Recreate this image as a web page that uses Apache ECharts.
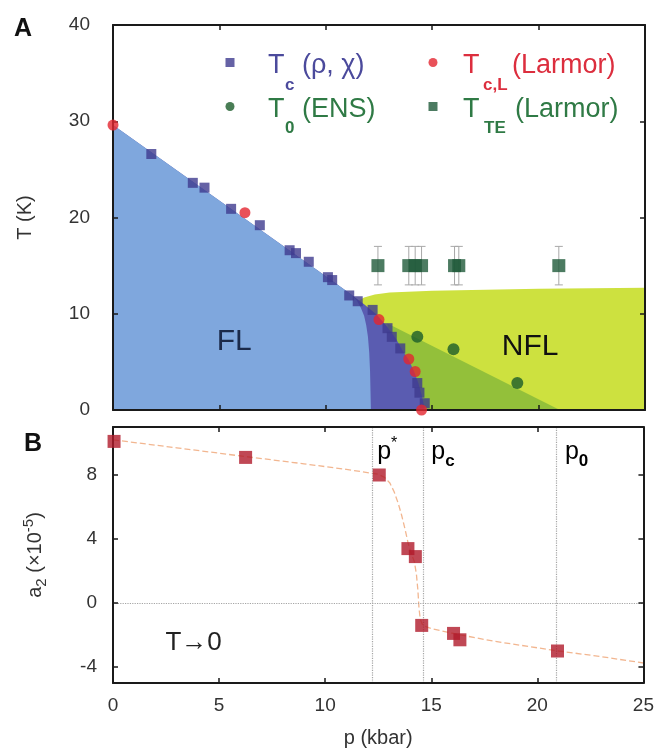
<!DOCTYPE html>
<html>
<head>
<meta charset="utf-8">
<script src="https://cdn.jsdelivr.net/npm/echarts@6/dist/echarts.min.js"></script>
<style>
html, body { margin: 0; padding: 0; background: #fff; }
#chart { width: 657px; height: 749px; }
</style>
</head>
<body>
<div id="chart"></div>
<script>
// ---- panel A : T(p) phase diagram ----
// Tc (rho, chi) squares
var tcDataP = [1.8, 3.75, 4.3, 5.55, 6.9, 8.3, 8.6, 9.2, 10.1, 10.3, 11.1, 11.5, 12.2, 12.9, 13.1, 13.5, 14.3, 14.4, 14.65];
var tcDataT = [26.6, 23.6, 23.1, 20.9, 19.2, 16.6, 16.3, 15.4, 13.8, 13.5, 11.9, 11.3, 10.4, 8.5, 7.6, 6.4, 2.8, 1.8, 0.7];
// Tc,L (Larmor) circles
var tcLP = [0, 6.2, 12.5, 13.9, 14.2, 14.5];
var tcLT = [29.6, 20.5, 9.4, 5.3, 4.0, 0];
// T0 (ENS) circles
var t0P = [14.3, 16.0, 19.0];
var t0T = [7.6, 6.3, 2.8];
// TTE (Larmor) squares with error bars
var tteP = [12.45, 13.9, 14.2, 14.5, 16.05, 16.25, 20.95];
var tteT = [15, 15, 15, 15, 15, 15, 15];
var tteErr = [2, 2, 2, 2, 2, 2, 2];

// region boundaries
var tcLineP = [0, 10, 11, 11.8, 12.4, 12.9, 13.3, 13.6, 13.9, 14.15, 14.35, 14.5, 14.6, 14.65];
var tcLineT = [29.6, 13.9, 12.3, 11.0, 9.9, 8.6, 7.4, 6.2, 5.2, 4.0, 2.8, 1.6, 0.6, 0];
var flP = [0, 10, 11, 11.2, 11.45, 11.65, 11.8, 11.9, 11.98, 12.04, 12.08, 12.1, 12.12];
var flT = [29.6, 13.9, 12.3, 12.0, 11.4, 10.6, 9.8, 8.8, 7.6, 6.0, 4.0, 2.0, 0];
var nflP = [11.5, 11.8, 12.3, 13, 15, 20, 25];
var nflT = [11.3, 11.7, 12.0, 12.2, 12.4, 12.6, 12.7];
var ensEdgeP = [12.9, 21.0];
var ensEdgeT = [9.0, 0];

// ---- panel B : a2(p) at T -> 0 ----
var a2P = [0.05, 6.25, 12.55, 13.9, 14.25, 14.55, 16.05, 16.35, 20.95];
var a2V = [10.1, 9.1, 8.0, 3.4, 2.9, -1.4, -1.9, -2.3, -3.0];
var fitP = [0, 3, 6.25, 9, 11, 12.5, 12.8, 13.05, 13.25, 13.45, 13.6, 13.75, 13.9, 14.05, 14.2, 14.3, 14.37, 14.42, 14.48, 14.6, 15, 16.2, 18, 21, 23, 25];
var fitA = [10.2, 9.7, 9.15, 8.7, 8.35, 8.05, 7.85, 7.5, 6.95, 6.2, 5.5, 4.7, 3.8, 3.1, 2.6, 1.8, 0.8, -0.3, -1.0, -1.4, -1.6, -1.95, -2.4, -3.0, -3.35, -3.75];
var refLinesP = [12.2, 14.6, 20.9];

var a2Ticks = [-4, 0, 4, 8];

function zip(a, b, c) {
    return a.map(function (v, i) { return c ? [v, b[i], c[i]] : [v, b[i]]; });
}

var FONT = '"Liberation Sans", Arial, sans-serif';
var INK = '#1a1a1a';
var BLUE_TXT = '#4b4a9c', RED_TXT = '#dc2e3e', GREEN_TXT = '#2f7a45';

function frameAxis(extra) {
    return Object.assign({
        type: 'value',
        axisLine: { show: true, onZero: false, lineStyle: { color: INK, width: 2 } },
        axisTick: { show: true, inside: true, length: 5, lineStyle: { color: INK, width: 1.5 } },
        axisLabel: { show: false },
        splitLine: { show: false },
        z: 5
    }, extra);
}

var labelStyle = { show: true, color: '#333', fontSize: 19, fontFamily: FONT };

function areaSeries(name, data, color) {
    return {
        name: name, type: 'line', xAxisIndex: 0, yAxisIndex: 0,
        data: data, showSymbol: false, symbol: 'none', silent: true,
        smooth: false,
        lineStyle: { width: 0 },
        areaStyle: { color: color, opacity: 1, origin: 'start' },
        z: 1
    };
}

// legend: icons from the legend component, labels (with subscripts) as text
function iconLegend(left, names) {
    return {
        left: left, top: 58, orient: 'vertical', padding: 0, itemGap: 35,
        itemWidth: 9, itemHeight: 9, selectedMode: false,
        data: names,
        formatter: function () { return ''; },
        textStyle: { fontSize: 9, lineHeight: 9 }
    };
}

var chart = echarts.init(document.getElementById('chart'));

var option = {
    animation: false,
    backgroundColor: '#fff',
    textStyle: { fontFamily: FONT },
    grid: [
        { left: 113, right: 12, top: 25, height: 385 },
        { left: 113, right: 12, top: 427, height: 258 }
    ],
    xAxis: [
        frameAxis({ gridIndex: 0, min: 0, max: 25, interval: 5, position: 'bottom' }),
        frameAxis({ gridIndex: 0, min: 0, max: 25, interval: 5, position: 'top' }),
        frameAxis({
            gridIndex: 1, min: 0, max: 25, interval: 5, position: 'bottom',
            axisLabel: Object.assign({ margin: 13, showMinLabel: true, showMaxLabel: true }, labelStyle),
            name: 'p (kbar)', nameLocation: 'middle', nameGap: 45,
            nameTextStyle: { fontSize: 20, color: '#333', fontFamily: FONT }
        }),
        frameAxis({ gridIndex: 1, min: 0, max: 25, interval: 5, position: 'top' })
    ],
    yAxis: [
        frameAxis({
            gridIndex: 0, min: 0, max: 40, interval: 10, position: 'left',
            axisLabel: Object.assign({ margin: 23 }, labelStyle),
            name: 'T (K)', nameLocation: 'middle', nameGap: 78,
            nameTextStyle: { fontSize: 20, color: '#333', fontFamily: FONT }
        }),
        frameAxis({ gridIndex: 0, min: 0, max: 40, interval: 10, position: 'right' }),
        frameAxis({
            gridIndex: 1, min: -5, max: 11, position: 'left',
            axisTick: { show: true, inside: true, length: 5, customValues: a2Ticks, lineStyle: { color: INK, width: 1.5 } },
            axisLabel: Object.assign({ margin: 16, customValues: a2Ticks }, labelStyle),
            name: '{n|a}{d|2}{n| (×10}{u|-5}{n|)}', nameLocation: 'middle', nameGap: 64,
            nameTextStyle: {
                color: '#333',
                rich: {
                    n: { fontSize: 20, color: '#333', lineHeight: 28, fontFamily: FONT },
                    d: { fontSize: 15, color: '#333', lineHeight: 8, verticalAlign: 'bottom', fontFamily: FONT },
                    u: { fontSize: 15, color: '#333', lineHeight: 8, verticalAlign: 'top', fontFamily: FONT }
                }
            }
        }),
        frameAxis({
            gridIndex: 1, min: -5, max: 11, position: 'right',
            axisTick: { show: true, inside: true, length: 5, customValues: a2Ticks, lineStyle: { color: INK, width: 1.5 } }
        })
    ],
    legend: [
        iconLegend(225.5, ['Tc (ρ, χ)', 'T0 (ENS)']),
        iconLegend(428.5, ['Tc,L (Larmor)', 'TTE (Larmor)'])
    ],
    series: [
        areaSeries('NFL', zip(nflP, nflT), '#cde13f'),
        areaSeries('ENS', zip(ensEdgeP, ensEdgeT), '#93c03a'),
        areaSeries('Tc line', zip(tcLineP, tcLineT), '#5a5cb1'),
        areaSeries('FL', zip(flP, flT), '#7fa7dd'),
        {
            name: 'TTE err', type: 'custom', xAxisIndex: 0, yAxisIndex: 0,
            data: zip(tteP, tteT, tteErr), silent: true, z: 8,
            encode: { x: 0, y: 1 },
            renderItem: function (params, api) {
                var x = api.value(0), y = api.value(1), e = api.value(2);
                var hi = api.coord([x, y + e]), lo = api.coord([x, y - e]);
                var w = 4, st = { stroke: '#a8a8a8', lineWidth: 1 };
                return {
                    type: 'group', children: [
                        { type: 'line', shape: { x1: hi[0], y1: hi[1], x2: lo[0], y2: lo[1] }, style: st },
                        { type: 'line', shape: { x1: hi[0] - w, y1: hi[1], x2: hi[0] + w, y2: hi[1] }, style: st },
                        { type: 'line', shape: { x1: lo[0] - w, y1: lo[1], x2: lo[0] + w, y2: lo[1] }, style: st }
                    ]
                };
            }
        },
        {
            name: 'Tc (ρ, χ)', type: 'scatter', xAxisIndex: 0, yAxisIndex: 0,
            data: zip(tcDataP, tcDataT), symbol: 'rect', symbolSize: 10,
            itemStyle: { color: '#3e3b8e' }, z: 10, clip: false
        },
        {
            name: 'Tc,L (Larmor)', type: 'scatter', xAxisIndex: 0, yAxisIndex: 0,
            data: zip(tcLP, tcLT), symbol: 'circle', symbolSize: 11,
            itemStyle: { color: '#e4262f' }, z: 11, clip: false
        },
        {
            name: 'T0 (ENS)', type: 'scatter', xAxisIndex: 0, yAxisIndex: 0,
            data: zip(t0P, t0T), symbol: 'circle', symbolSize: 12,
            itemStyle: { color: '#1b5c2b' }, z: 10
        },
        {
            name: 'TTE (Larmor)', type: 'scatter', xAxisIndex: 0, yAxisIndex: 0,
            data: zip(tteP, tteT), symbol: 'rect', symbolSize: 13,
            itemStyle: { color: '#1f5a3a' }, z: 10
        },
        {
            name: 'fit', type: 'line', xAxisIndex: 2, yAxisIndex: 2,
            data: zip(fitP, fitA), showSymbol: false, symbol: 'none', silent: true,
            smooth: false,
            lineStyle: { color: '#f2b690', width: 1.3, type: [6, 3] },
            markLine: {
                silent: true, symbol: ['none', 'none'], label: { show: false },
                lineStyle: { color: '#a5a5a5', width: 1.2, type: 'dotted' },
                data: refLinesP.map(function (p) { return { xAxis: p }; }).concat([{ yAxis: 0 }])
            },
            z: 3
        },
        {
            name: 'a2', type: 'scatter', xAxisIndex: 2, yAxisIndex: 2,
            data: zip(a2P, a2V), symbol: 'rect', symbolSize: 13,
            itemStyle: { color: '#b01a2a' }, z: 10, clip: false
        }
    ]
};

chart.setOption(option);

// text annotations placed in data coordinates
function at(grid, p, v) { return chart.convertToPixel({ gridIndex: grid }, [p, v]); }
function note(grid, p, v, text, style) {
    var xy = at(grid, p, v);
    return {
        type: 'text', x: xy[0], y: xy[1], z: 20,
        style: Object.assign({ text: text, fontFamily: FONT, verticalAlign: 'middle' }, style)
    };
}
function txt(x, y, text, size, color, bold) {
    return {
        type: 'text', x: x, y: y, z: 20,
        style: { text: text, fontSize: size, fill: color, fontFamily: FONT, fontWeight: bold ? 'bold' : 'normal', verticalAlign: 'middle', align: 'left' }
    };
}
var pRich = {
    p: { fontSize: 25, color: '#333', lineHeight: 34, fontFamily: FONT },
    d: { fontSize: 17, fontWeight: 'bold', color: '#333', lineHeight: 6, verticalAlign: 'bottom', fontFamily: FONT },
    u: { fontSize: 16, color: '#333', lineHeight: 12, verticalAlign: 'top', fontFamily: FONT }
};
chart.setOption({
    graphic: [
        { type: 'text', left: 14, top: 17, z: 20, style: { text: 'A', fontSize: 25, fontWeight: 'bold', fill: '#111', fontFamily: FONT } },
        { type: 'text', left: 24, top: 432, z: 20, style: { text: 'B', fontSize: 25, fontWeight: 'bold', fill: '#111', fontFamily: FONT } },
        // legend labels
        txt(268, 66, 'T', 27, BLUE_TXT), txt(285, 85, 'c', 17, BLUE_TXT, true), txt(302, 66, '(ρ, χ)', 27, BLUE_TXT),
        txt(268, 110, 'T', 27, GREEN_TXT), txt(285, 128, '0', 17, GREEN_TXT, true), txt(302, 110, '(ENS)', 27, GREEN_TXT),
        txt(463, 66, 'T', 27, RED_TXT), txt(483, 85, 'c,L', 17, RED_TXT, true), txt(512, 66, '(Larmor)', 27, RED_TXT),
        txt(463, 110, 'T', 27, GREEN_TXT), txt(484, 128, 'TE', 17, GREEN_TXT, true), txt(515, 110, '(Larmor)', 27, GREEN_TXT),
        // region and panel notes
        note(0, 5.7, 7.1, 'FL', { fontSize: 30, fill: '#1b2a4a', align: 'center' }),
        note(0, 19.6, 6.6, 'NFL', { fontSize: 30, fill: '#111', align: 'center' }),
        note(1, 3.8, -2.5, 'T→0', { fontSize: 26, fill: '#222', align: 'center' }),
        note(1, 12.45, 9.4, '{p|p}{u|*}', { rich: pRich, align: 'left' }),
        note(1, 15.0, 9.4, '{p|p}{d|c}', { rich: pRich, align: 'left' }),
        note(1, 21.3, 9.4, '{p|p}{d|0}', { rich: pRich, align: 'left' })
    ]
});
</script>
</body>
</html>
